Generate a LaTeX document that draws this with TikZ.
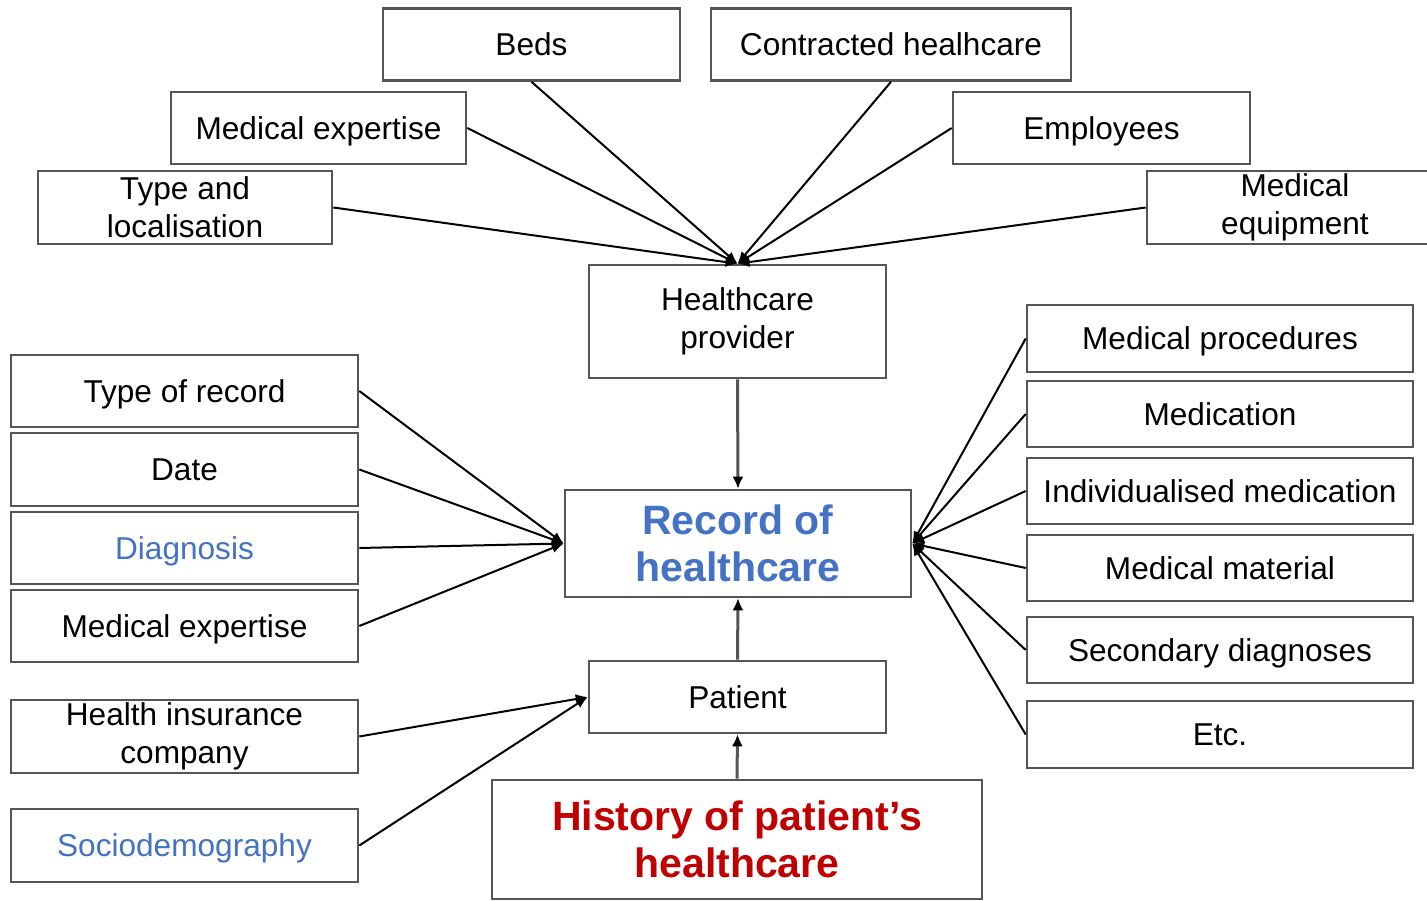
\documentclass[tikz,border=0pt]{standalone}
\usepackage{fontspec}
\setmainfont{Liberation Sans}
\usetikzlibrary{arrows.meta}
\definecolor{bdr}{RGB}{85,85,85}
\definecolor{blu}{RGB}{68,114,196}
\definecolor{rd}{RGB}{192,0,0}
\tikzset{
  box/.style={draw=bdr, line width=2.6pt, fill=white, inner sep=0pt, align=center,
    font=\fontsize{31.6}{38}\selectfont},
  one/.style={text height=22.6pt, text depth=0pt},
  topbox/.style={box, minimum width=297pt, minimum height=72pt},
  leftbox/.style={box, minimum width=347pt, minimum height=72pt},
  rightbox/.style={box, one, minimum width=386pt, minimum height=66pt},
  conn/.style={draw=black, line width=2pt, -{Latex[length=12pt,width=10pt]}},
  vconn/.style={draw=bdr, line width=3pt, -{Latex[length=12pt,width=11pt,color=black]}},
  big/.style={font=\fontsize{41}{47}\selectfont\bfseries}
}
\begin{document}
\begin{tikzpicture}[x=1pt,y=-1pt]
\useasboundingbox (0,0) rectangle (1427,901);
\clip (0,0) rectangle (1427,901);
% top row
\node[topbox, one] (beds) at (531.5,44.5) {Beds};
\node[topbox, one, minimum width=360pt] (contr) at (891,44.5) {Contracted healhcare};
\node[topbox, one, minimum width=295pt] (medexpA) at (318.5,128) {Medical expertise};
\node[topbox, one] (empl) at (1101.5,128) {Employees};
\node[topbox, minimum width=294pt, minimum height=73pt] (typeloc) at (185,207.5) {Type and\\localisation};
\node[topbox, minimum width=296pt, minimum height=73pt] (medeq) at (1295,207.5) {Medical\\equipment};
% centre column
\node[topbox, minimum height=113pt] (hcp) at (737.5,321.5) {\raisebox{-3pt}{\begin{tabular}{@{}c@{}}Healthcare\\[0pt]provider\end{tabular}}};
\node[box, minimum width=346pt, minimum height=107pt, text=blu, big] (rec) at (738,543.5) {Record of\\healthcare};
\node[topbox, one] (pat) at (737.5,697) {Patient};
\node[box, minimum width=490pt, minimum height=119pt, text=rd, big] (hist) at (737,839.5) {History of patient’s\\healthcare};
% left column
\node[leftbox, one] (tor) at (184.5,391) {Type of record};
\node[leftbox, one, minimum height=73pt] (date) at (184.5,469.5) {Date};
\node[leftbox, one, text=blu] (diag) at (184.5,548) {Diagnosis};
\node[leftbox, one] (medexpB) at (184.5,626) {Medical expertise};
\node[leftbox, minimum height=73pt] (hic) at (184.5,736.5) {Health insurance\\company};
\node[leftbox, one, minimum height=73pt, text=blu] (socio) at (184.5,845.5) {Sociodemography};
% right column
\node[rightbox, minimum height=67pt] (mp) at (1220,338.5) {Medical procedures};
\node[rightbox] (med) at (1220,414) {Medication};
\node[rightbox] (ind) at (1220,491) {Individualised medication};
\node[rightbox] (mm) at (1220,568) {Medical material};
\node[rightbox] (sd) at (1220,650) {Secondary diagnoses};
\node[rightbox, minimum height=67pt] (etc) at (1220,734.5) {Etc.};
% connectors to healthcare provider
\draw[conn] (beds.south) -- (hcp.north);
\draw[conn] (contr.south) -- (hcp.north);
\draw[conn] (medexpA.east) -- (hcp.north);
\draw[conn] (empl.west) -- (hcp.north);
\draw[conn] (typeloc.east) -- (hcp.north);
\draw[conn] (medeq.west) -- (hcp.north);
% vertical connectors
\draw[vconn] (hcp.south) -- (rec.north);
\draw[vconn] (pat.north) -- (rec.south);
\draw[vconn] (hist.north) -- (pat.south);
% left connectors
\foreach \n in {tor,date,diag,medexpB} \draw[conn] (\n.east) -- (rec.west);
\draw[conn] (hic.east) -- (pat.west);
\draw[conn] (socio.east) -- (pat.west);
% right connectors
\foreach \n in {mp,med,ind,mm,sd,etc} \draw[conn] (\n.west) -- (rec.east);
\end{tikzpicture}
\end{document}
